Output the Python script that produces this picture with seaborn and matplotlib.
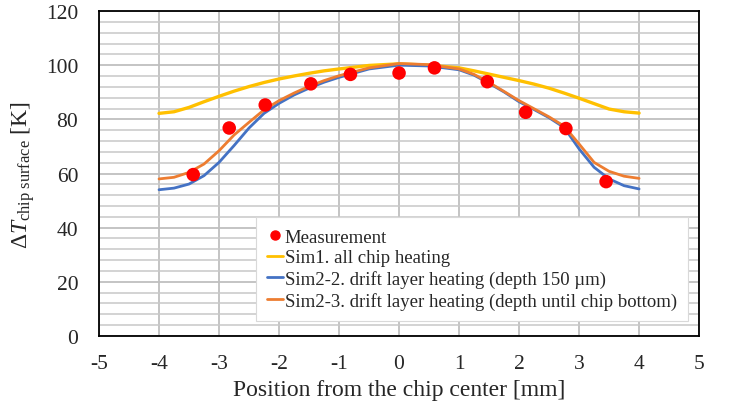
import numpy as np
import pandas as pd
import matplotlib
matplotlib.use("Agg")
import matplotlib.pyplot as plt
import seaborn as sns
from matplotlib.ticker import MultipleLocator
from matplotlib.lines import Line2D

# ---- data ----
meas_x = [-3.43, -2.83, -2.23, -1.47, -0.81, 0.0, 0.59, 1.47, 2.11, 2.78, 3.45]
meas_y = [59.6, 76.8, 85.3, 93.1, 96.6, 97.1, 99.0, 93.9, 82.6, 76.6, 57.0]

sim_x = [-4.0, -3.75, -3.5, -3.25, -3.0, -2.75, -2.5, -2.25, -2.0, -1.75, -1.5,
         -1.25, -1.0, -0.5, 0.0, 0.5, 1.0, 1.25, 1.5, 1.75, 2.0, 2.25, 2.5,
         2.75, 3.0, 3.25, 3.5, 3.75, 4.0]
sim1_y = [82.2, 82.8, 84.4, 86.5, 88.5, 90.4, 92.1, 93.6, 94.9, 96.0, 97.0,
          97.9, 98.6, 99.9, 100.5, 100.0, 99.0, 97.9, 96.7, 95.5, 94.3, 93.0, 91.5,
          89.7, 87.8, 85.8, 83.8, 82.8, 82.3]
sim22_y = [54.0, 54.6, 56.1, 59.2, 64.1, 70.3, 76.8, 82.2, 85.9, 89.0, 91.5,
           93.7, 95.5, 98.6, 100.0, 99.7, 98.3, 96.3, 93.3, 90.1, 86.5, 83.6, 80.6,
           77.0, 69.1, 62.3, 58.0, 55.5, 54.3]
sim23_y = [58.0, 58.6, 60.4, 63.5, 68.4, 74.2, 78.9, 83.5, 86.9, 89.7, 92.2,
           94.3, 96.1, 99.0, 100.6, 100.2, 98.6, 96.6, 93.6, 90.3, 86.9, 83.9, 80.9,
           77.5, 70.9, 64.1, 60.8, 59.0, 58.2]

labels = ["Measurement", "Sim1. all chip heating",
          "Sim2-2. drift layer heating (depth 150 \u00b5m)",
          "Sim2-3. drift layer heating (depth until chip bottom)"]
colors = ["#ff0000", "#ffc000", "#4472c4", "#ed7d31"]

sns.set_theme(style="white")
plt.rcParams['font.family'] = ['Liberation Serif', 'DejaVu Serif']
plt.rcParams['mathtext.fontset'] = 'custom'
plt.rcParams['mathtext.rm'] = 'Liberation Serif'
plt.rcParams['mathtext.it'] = 'Liberation Serif:italic'

fig = plt.figure(figsize=(7.29, 4.14), dpi=100)
ax = fig.add_axes([0.1358, 0.186, 0.8232, 0.785])

df = pd.DataFrame({"x": sim_x, "s1": sim1_y, "s22": sim22_y, "s23": sim23_y})
sns.lineplot(data=df, x="x", y="s1", ax=ax, color=colors[1], lw=2.4, zorder=3)
sns.lineplot(data=df, x="x", y="s22", ax=ax, color=colors[2], lw=2.0, zorder=3)
sns.lineplot(data=df, x="x", y="s23", ax=ax, color=colors[3], lw=2.0, zorder=4)
sns.scatterplot(x=meas_x, y=meas_y, ax=ax, color=colors[0], s=95,
                edgecolor="none", zorder=5)

ax.set_xlim(-5, 5)
ax.set_ylim(0, 120)
ax.xaxis.set_major_locator(MultipleLocator(1))
ax.yaxis.set_major_locator(MultipleLocator(20))
ax.yaxis.set_minor_locator(MultipleLocator(4))
ax.grid(True, which="major", axis="both", color="#bfbfbf", lw=1.3, zorder=0)
ax.grid(True, which="minor", axis="y", color="#c8c8c8", lw=1.1, zorder=0)
ax.set_axisbelow(True)
for sp in ax.spines.values():
    sp.set_color("black")
    sp.set_linewidth(1.3)
ax.tick_params(axis="both", which="both", length=0, labelsize=15.5)
ax.tick_params(axis="x", pad=13)
ax.tick_params(axis="y", pad=15)
ax.set_xticks(range(-5, 6))
ax.set_xticklabels([str(v) for v in range(-5, 6)])

ax.set_xlabel("Position from the chip center [mm]", fontsize=17, labelpad=4)
ax.set_ylabel(r"$\Delta \mathit{T}_{\mathrm{chip\ surface}}$ [K]", fontsize=17, labelpad=6)

handles = [Line2D([], [], marker="o", color=colors[0], ls="none", markersize=6.5),
           Line2D([], [], color=colors[1], lw=2),
           Line2D([], [], color=colors[2], lw=2),
           Line2D([], [], color=colors[3], lw=2)]
leg = ax.legend(handles, labels, loc="lower right", bbox_to_anchor=(0.982, 0.046),
                fontsize=13.5, frameon=True, fancybox=False, framealpha=1,
                edgecolor="#d9d9d9", handlelength=0.85, handletextpad=0.1,
                labelspacing=0.2, borderpad=0.6, borderaxespad=0)
leg.get_frame().set_linewidth(0.8)

fig.savefig("out.png", dpi=100)
